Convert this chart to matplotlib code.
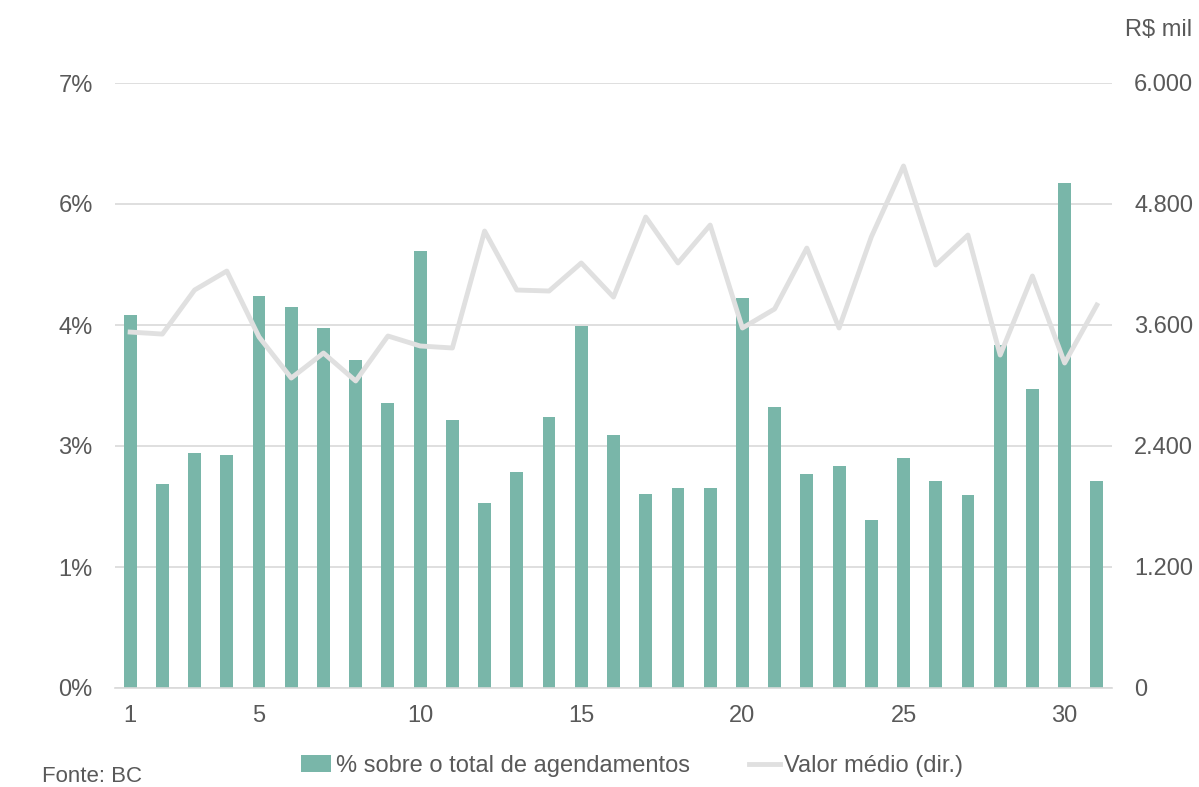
import matplotlib.pyplot as plt
import numpy as np
from matplotlib.ticker import FuncFormatter

plt.rcParams.update({
    "font.family": ["Liberation Sans", "DejaVu Sans"],
    "font.size": 17,
})

# dias do mês
days = list(range(1, 32))
# % sobre o total de agendamentos
share = [4.32, 2.36, 2.72, 2.70, 4.54, 4.41, 4.17, 3.80, 3.30, 5.06,
         3.10, 2.14, 2.50, 3.14, 4.19, 2.93, 2.24, 2.31, 2.31, 4.51,
         3.25, 2.48, 2.57, 1.94, 2.66, 2.40, 2.23, 3.97, 3.46, 5.84, 2.40]
# valor médio (R$ mil), eixo direito
avg_value = [3530, 3510, 3947, 4135, 3481, 3074, 3322, 3045, 3491, 3392,
             3372, 4532, 3947, 3937, 4215, 3877, 4671, 4215, 4591, 3570,
             3759, 4363, 3570, 4473, 5177, 4195, 4492, 3302, 4086, 3223, 3798]

xticks = [1, 5, 10, 15, 20, 25, 30]
bar_color = "#79b6a9"
line_color = "#e0e0e0"
txt_color = "#595959"

fig = plt.figure(figsize=(11.99, 7.87), dpi=100)
ax1 = fig.add_axes([115 / 1199, 1 - 688 / 787, (1112 - 115) / 1199, (688 - 83) / 787])
ax2 = ax1.twinx()

bars = ax1.bar(days, share, width=0.4, color=bar_color, zorder=2,
               label="% sobre o total de agendamentos")
lns = ax2.plot(days, avg_value, color=line_color, linewidth=3.5, zorder=3,
               label="Valor médio (dir.)")

ax1.set_xlim(0.53, 31.47)
ax1.set_ylim(0, 7)
ax1.set_yticks(np.linspace(0, 7, 6))
ax1.yaxis.set_major_formatter(FuncFormatter(lambda v, p: "%d%%" % round(v)))
ax2.set_ylim(0, 6000)
ax2.set_yticks(np.linspace(0, 6000, 6))
ax2.yaxis.set_major_formatter(FuncFormatter(lambda v, p: "{:,.0f}".format(v).replace(",", ".")))
ax1.set_xticks(xticks)

ax1.grid(True, axis="y", color="#d9d9d9", linewidth=1.2, zorder=0)
ax1.set_axisbelow(True)
for ax in (ax1, ax2):
    for s in ax.spines.values():
        s.set_visible(False)
    ax.tick_params(length=0, colors=txt_color, labelsize=17)
ax1.spines["bottom"].set_visible(True)
ax1.spines["bottom"].set_color("#d9d9d9")
ax1.spines["bottom"].set_linewidth(1.2)
ax1.tick_params(axis="y", pad=16)
ax1.tick_params(axis="x", pad=12)
ax2.tick_params(axis="y", pad=16)

fig.text(1192 / 1199, 1 - 30 / 787, "R$ mil", ha="right", va="center",
         color=txt_color, fontsize=17)
fig.text(42 / 1199, 1 - 777 / 787, "Fonte: BC", ha="left", va="center",
         color=txt_color, fontsize=16)

fig.legend(handles=[bars, lns[0]], loc="center", ncol=2,
           bbox_to_anchor=(632 / 1199, 1 - 766 / 787), frameon=False,
           fontsize=17, labelcolor=txt_color, handlelength=1.3,
           handletextpad=0.2, columnspacing=2.5)

plt.savefig("out.png", dpi=100)
